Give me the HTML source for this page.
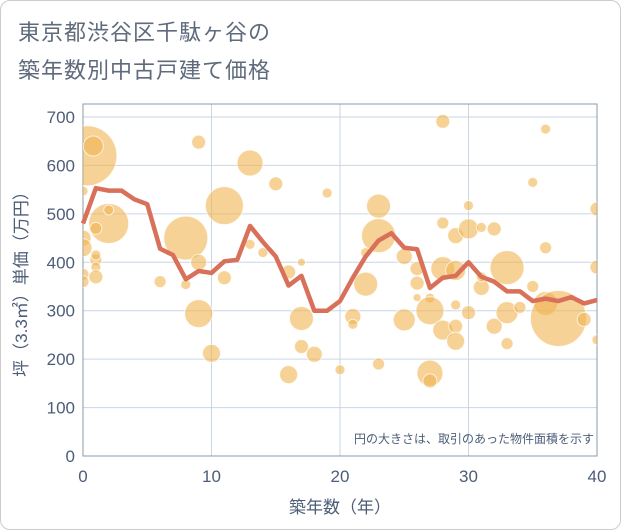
<!DOCTYPE html>
<html><head><meta charset="utf-8"><style>
body{margin:0;background:#fff;}
#wrap{position:relative;width:621px;height:530px;font-family:"Liberation Sans","Noto Sans CJK JP",sans-serif;}
#frame{position:absolute;left:0;top:0;width:619px;height:528px;border:1px solid #ccc;border-radius:10px;}
.title{position:absolute;left:18px;font-size:22px;color:#5f6b7c;letter-spacing:1px;}
</style></head><body>
<div id="wrap">
<div id="frame"></div>
<div class="title" style="top:15px">東京都渋谷区千駄ヶ谷の</div>
<div class="title" style="top:53px">築年数別中古戸建て価格</div>
<svg id="svg" width="621" height="530" style="position:absolute;left:0;top:0"><defs><clipPath id="pc"><rect x="83" y="104" width="514" height="352"/></clipPath></defs></svg>
</div>
<script>
const xTicks=[0,10,20,30,40];
const yTicks=[0,100,200,300,400,500,600,700];
const lineYears=[0,1,2,3,4,5,6,7,8,9,10,11,12,13,14,15,16,17,18,19,20,21,22,23,24,25,26,27,28,29,30,31,32,33,34,35,36,37,38,39,40];
const lineValues=[480,553,548,548,530,520,428,415,365,382,378,402,405,475,442,412,352,372,300,300,320,368,412,445,460,430,427,347,368,372,400,370,360,340,340,320,325,320,328,315,322];
const bubbleX=[0.3,0.8,9,13,15,19,11,2,2,8,9,11,6,8,9,10,13,14,16,17,17,17,18,16,20,0,1,0,0,1,1,0,1,0,1,28,36,35,40,23,23,30,28,29,30,31,32,36,40,22,25,26,26,22,28,29,31,31,33,26,27,27,29,30,25,21,21,28,29,29,32,33,34,35,36,37,39,40,33,23,27,27];
const bubbleY=[620,640,648,605,562,543,517,480,508,450,400,368,360,354,294,212,437,420,380,400,284,226,210,168,178,547,470,450,430,405,390,375,370,360,415,691,675,565,510,516,455,517,481,455,469,472,469,430,390,420,412,387,357,355,387,383,348,370,389,327,326,300,312,296,281,288,272,260,268,237,268,296,307,350,315,284,282,240,232,190,171,155];
const bubbleR=[30,10,7,13,7,5,19,20,5,22,8,7,6,5,14,9,5,5,7,4,12,7,8,9,5,5,6,8,9,6,5,6,7,6,5,7,5,5,7,12,17,5,6,8,10,5,7,6,7,5,8,7,7,12,12,10,8,5,17,4,5,14,5,7,11,8,5,10,7,9,8,11,6,6,12,28,7,5,6,6,13,7];
const L=83,R=597,T=104,B=456;
const xs=v=>L+(v/40)*(R-L);
const ys=v=>456-(v/700)*(456-117);
const svg=document.getElementById('svg');
const NS='http://www.w3.org/2000/svg';
function mk(t,a){const e=document.createElementNS(NS,t);for(const k in a)e.setAttribute(k,a[k]);svg.appendChild(e);return e;}
yTicks.forEach(v=>{const g=mk('line',{x1:L,x2:R,y1:ys(v),y2:ys(v),stroke:'#c9d6e6','stroke-width':1});


const t=mk('text',{x:L-8,y:ys(v)+6,'text-anchor':'end','font-size':17,fill:'#4d5d78'});t.textContent=v;

});
xTicks.forEach(v=>{const g=mk('line',{x1:xs(v),x2:xs(v),y1:T,y2:B,stroke:'#c9d6e6','stroke-width':1});


const t=mk('text',{x:xs(v),y:B+26,'text-anchor':'middle','font-size':17,fill:'#4d5d78'});t.textContent=v;

});
const fr=mk('rect',{x:L,y:T,width:R-L,height:B-T,fill:'none',stroke:'#8a98aa','stroke-width':1});


bubbleX.forEach((v,i)=>{const c=mk('circle',{cx:xs(v),cy:ys(bubbleY[i]),r:bubbleR[i],fill:'rgba(240,180,80,0.6)',stroke:'rgba(255,255,255,0.7)','stroke-width':1,'clip-path':'url(#pc)'});

});
const pl=mk('polyline',{points:lineYears.map((v,i)=>xs(v)+','+ys(lineValues[i])).join(' '),fill:'none',stroke:'#d8705a','stroke-width':4.5,'stroke-linejoin':'round'});


const n=mk('text',{x:594,y:443,'text-anchor':'end','font-size':12,fill:'#4d5d78'});n.textContent='円の大きさは、取引のあった物件面積を示す';


const xt=mk('text',{x:(L+R)/2,y:513,'text-anchor':'middle','font-size':17,fill:'#4d5d78'});xt.textContent='築年数（年）';


const yt=mk('text',{x:0,y:0,'text-anchor':'middle','font-size':17,fill:'#4d5d78',transform:'translate(27,'+((T+B)/2)+') rotate(-90)'});yt.textContent='坪（3.3㎡）単価（万円）';


</script>
</body></html>
